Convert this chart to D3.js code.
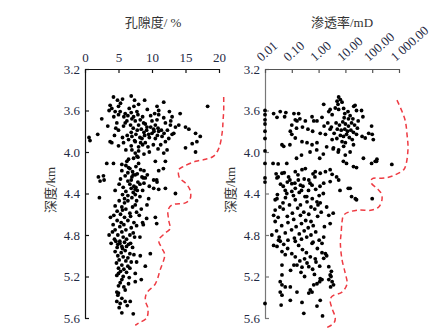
<!DOCTYPE html>
<html>
<head>
<meta charset="utf-8">
<script src="https://cdn.jsdelivr.net/npm/d3@7"></script>
<style>
  html, body { margin: 0; padding: 0; background: #fff; }
  svg { display: block; }
  .tick text { font-family: "Liberation Serif", "Times New Roman", serif; font-size: 13px; fill: #1f2a44; }
  .title { font-family: "Liberation Serif", "Noto Sans CJK SC", serif; font-size: 13px; fill: #333; }
</style>
</head>
<body>
<script>
// Depth ticks shared by both panels (km)
const depthTicks = [3.2, 3.6, 4.0, 4.4, 4.8, 5.2, 5.6];
const porosityTicks = [0, 5, 10, 15, 20];
const permTicks = [0.01, 0.1, 1, 10, 100, 1000];
const permTickLabels = ["0.01", "0.10", "1.00", "10.00", "100.00", "1 000.00"];

// Porosity samples: [porosity %, depth km]
const porositySamples = [
  [4.25,3.47],[4.85,3.50],[5.6,3.49],[6.9,3.46],[7.4,3.50],[8.9,3.50],[8.0,3.54],[11.75,3.52],[10.75,3.56],[18.3,3.56],
  [3.75,3.55],[4.0,3.58],[3.6,3.60],[4.5,3.61],[5.0,3.56],[5.25,3.61],[6.0,3.63],[6.4,3.65],[6.9,3.62],[7.75,3.61],
  [7.9,3.64],[7.25,3.66],[11.0,3.60],[11.0,3.64],[12.6,3.61],[14.2,3.63],[11.75,3.67],[10.75,3.69],[2.5,3.68],[0.6,3.86],
  [0.75,3.89],[1.9,3.83],[4.75,3.72],[4.6,3.77],[5.0,3.79],[5.75,3.75],[6.25,3.70],[7.5,3.70],[8.25,3.69],[8.0,3.74],
  [8.75,3.72],[9.25,3.76],[10.0,3.70],[10.5,3.74],[10.25,3.78],[12.0,3.72],[12.75,3.74],[13.5,3.76],[14.0,3.74],[13.25,3.82],
  [15.0,3.76],[15.5,3.78],[16.5,3.82],[17.2,3.85],[16.0,3.92],[15.0,3.96],[16.7,3.90],[16.5,4.00],[3.75,3.90],[4.0,3.91],
  [5.0,3.94],[5.75,3.91],[6.5,3.88],[7.0,3.85],[7.5,3.90],[8.0,3.95],[8.5,3.87],[9.0,3.91],[9.5,3.83],[10.0,3.82],
  [10.5,3.87],[11.0,3.80],[11.5,3.85],[12.0,3.90],[12.5,3.87],[13.0,3.83],[12.25,3.98],[11.75,4.01],[7.0,3.98],[7.5,4.01],
  [7.25,4.06],[7.75,4.04],[6.5,4.07],[6.25,4.09],[3.25,4.11],[4.25,4.11],[5.5,4.12],[8.0,4.11],[10.5,4.09],[12.0,4.09],
  [6.0,3.72],[6.8,3.74],[7.2,3.77],[7.8,3.79],[8.4,3.78],[8.8,3.81],[9.2,3.79],[9.8,3.76],[10.3,3.80],[10.9,3.77],
  [11.4,3.79],[9.6,3.86],[8.9,3.84],[8.2,3.86],[7.6,3.83],[6.9,3.81],[6.3,3.84],[5.6,3.86],[10.8,3.84],[11.8,3.82],
  [12.3,3.79],[9.0,3.73],[7.0,3.68],[8.6,3.66],[9.8,3.65],[10.4,3.63],[5.8,3.66],[6.6,3.58],[5.3,3.53],[9.3,3.59],
  [7.3,3.56],[8.6,3.93],[9.4,3.95],[10.2,3.93],[8.0,3.99],[8.8,4.02],[9.6,4.00],[7.9,4.05],[6.9,3.94],[11.3,3.93],
  [12.8,3.70],[13.0,3.66],[5.0,3.64],[4.3,3.66],[3.4,3.75],[4.4,3.84],[7.4,3.89],[8.3,3.91],[10.9,3.97],[6.1,3.98],
  [2.0,4.24],[2.25,4.28],[2.75,4.23],[2.85,4.27],[2.15,4.44],[4.5,4.37],[10.25,4.27],[10.75,4.29],[10.25,4.35],[11.0,4.36],
  [12.0,4.35],[13.5,4.40],[11.7,4.16],[11.0,4.18],[9.0,4.25],[9.5,4.45],[9.25,4.51],[10.5,4.63],[10.7,4.69],[9.2,4.64],
  [8.7,4.70],[10.7,4.27],
  [6.1,4.13],[6.7,4.16],[7.6,4.14],[8.3,4.17],[5.5,4.18],[6.4,4.20],[7.1,4.19],[7.8,4.21],[8.8,4.18],[6.0,4.23],
  [7.0,4.24],[7.5,4.22],[8.5,4.24],[5.3,4.26],[6.4,4.28],[6.9,4.27],[7.9,4.29],[8.8,4.30],[6.7,4.31],[7.3,4.33],
  [8.2,4.31],[5.7,4.34],[6.9,4.35],[7.6,4.34],[8.6,4.37],[6.1,4.38],[7.2,4.39],[7.8,4.37],[5.6,4.41],[6.4,4.42],
  [7.5,4.41],[8.2,4.43],[5.9,4.45],[7.0,4.44],[7.7,4.47],[9.3,4.22],[9.6,4.33],[5.1,4.31],[6.5,4.15],[7.2,4.22],
  [8.7,4.25],[7.5,4.36],
  [5.1,4.47],[5.9,4.49],[6.4,4.47],[7.5,4.51],[4.5,4.52],[5.5,4.53],[6.1,4.55],[7.1,4.53],[4.8,4.57],[5.6,4.56],
  [6.7,4.59],[7.7,4.58],[4.3,4.61],[5.3,4.60],[5.9,4.63],[6.8,4.62],[8.1,4.61],[4.8,4.66],[5.4,4.68],[6.4,4.66],
  [7.3,4.68],[4.2,4.70],[5.2,4.72],[5.8,4.70],[6.9,4.73],[7.7,4.71],[4.5,4.75],[5.5,4.77],[6.1,4.75],[7.2,4.78],
  [4.1,4.77],[4.9,4.80],[5.7,4.82],[6.7,4.80],[7.4,4.82],[4.4,4.84],[5.2,4.86],[6.2,4.84],[6.8,4.88],[3.9,4.88],
  [4.9,4.89],[5.5,4.91],[6.5,4.89],[8.4,4.55],[8.6,4.68],[8.2,4.82],[3.8,4.63],[3.6,4.80],
  [9.75,4.98],[8.25,5.0],[9.0,5.10],[7.5,5.17],[8.4,5.23],[7.5,5.25],[6.5,5.27],[5.0,5.17],[4.75,5.19],[5.5,5.23],
  [5.25,5.26],[6.0,5.33],[4.75,5.35],[5.0,5.36],[5.5,5.41],[6.0,5.44],[4.75,5.44],[5.25,5.46],[6.75,5.44],[5.5,5.55],
  [7.2,5.56],
  [4.6,4.86],[5.2,4.88],[5.9,4.87],[4.8,4.92],[5.6,4.93],[6.2,4.91],[7.1,4.92],[4.5,4.96],[5.4,4.97],[6.0,4.95],
  [6.7,4.98],[4.9,5.00],[5.7,5.01],[6.4,5.02],[7.3,4.99],[5.1,5.04],[6.1,5.05],[6.9,5.06],[4.7,5.07],[5.5,5.09],
  [6.4,5.10],[7.7,5.06],[5.0,5.12],[5.8,5.13],[6.7,5.12],[5.3,5.15],[6.2,5.16],[5.7,5.20],[6.6,5.21],[5.0,5.29],
  [5.8,5.30],[4.9,5.38],[6.3,5.48],[5.1,5.50]
];

// Permeability samples: [permeability mD, depth km]
const permSamples = [
  [0.01,3.60],[0.01,3.64],[0.01,3.69],[0.01,3.73],[0.01,3.80],[0.01,3.87],[0.01,3.99],[0.01,4.11],[0.01,4.25],[0.01,4.29],[0.01,5.46],
  [5.6,3.47],[6.5,3.495],[4.9,3.51],[7.5,3.52],[5.3,3.54],[1.55,3.54],[20.5,3.56],[4.2,3.576],[8.6,3.58],[2.7,3.59],
  [5.6,3.59],[2.4,3.61],[12.5,3.61],[23,3.55],[26,3.60],[3.2,3.64],[0.021,3.63],[0.028,3.666],[0.037,3.61],[0.054,3.66],
  [0.12,3.63],[0.135,3.69],[0.156,3.70],[0.18,3.63],[0.32,3.70],[0.57,3.66],[0.66,3.70],[0.87,3.70],[1.34,3.666],[0.06,3.62],
  [0.2,3.68],[9.5,3.63],[15,3.65],[40,3.60],[45,3.66],
  [0.088,3.80],[0.1,3.83],[0.135,3.865],[0.24,3.90],[0.37,3.91],[0.043,3.93],[0.05,3.945],[0.57,3.93],[0.87,3.91],[0.1,3.74],
  [0.25,3.76],[0.4,3.78],[0.6,3.80],[0.15,3.77],[0.085,3.93],
  [1.15,3.82],[1.8,3.83],[2.7,3.78],[3.2,3.88],[3.6,3.96],[5.6,3.98],[8.6,3.945],[9.9,4.03],[15,4.0],[20,3.93],
  [42,3.85],[55,3.865],[74,3.82],[100,3.83],[95,3.75],[110,3.88],
  [4.5,3.72],[6,3.74],[8,3.71],[10,3.73],[13,3.75],[17,3.72],[22,3.74],[28,3.77],[5,3.78],[7,3.79],
  [9.5,3.78],[12,3.80],[16,3.79],[20,3.81],[26,3.83],[6.5,3.84],[8.5,3.85],[11,3.83],[14,3.86],[18,3.88],
  [3.8,3.82],[4.8,3.87],[7.5,3.90],[10,3.91],[13,3.68],[9,3.67],[19,3.68],[30,3.70],[2.2,3.72],[1.6,3.75],[3,3.76],
  [150,4.07],[130,4.09],[540,4.12],[95,4.11],[145,4.09],[47,4.06],
  [0.02,4.11],[0.031,4.115],[0.065,4.11],[0.15,4.06],[0.23,4.03],[0.48,4.0],[0.85,3.98],[1.1,4.06],[1.5,4.02],[2.0,3.95],
  [3.5,3.97],[5.4,4.0],[8.4,4.09],[11,4.11],[20,4.14],[26,4.15],
  [0.043,4.205],[0.028,4.25],[0.076,4.24],[0.135,4.19],[0.24,4.17],[0.32,4.16],[0.75,4.19],[1.15,4.205],[1.8,4.19],[3.2,4.215],
  [2.7,4.17],[5.6,4.27],[15,4.35],[23.5,4.45],[100,4.45],[1.55,4.30],[0.57,4.32],[0.43,4.27],[0.21,4.32],[0.135,4.35],
  [0.1,4.38],[0.057,4.37],[0.028,4.45],
  [0.031,4.24],[0.048,4.33],[0.024,4.46],[0.036,4.53],[0.065,4.40],[0.1,4.305],[0.175,4.27],[0.23,4.37],[0.36,4.43],[0.48,4.30],
  [0.73,4.24],[1.13,4.33],[1.5,4.40],[2.7,4.285],[4.7,4.24],[6.3,4.37],[12.8,4.35],[17,4.43],[26,4.46],[2.0,4.53],[3.5,4.59],
  [0.026,4.21],[0.052,4.20],[0.085,4.27],[0.17,4.22],[0.29,4.26],[0.62,4.21],[0.038,4.31],[0.068,4.29],[0.13,4.30],[0.26,4.33],
  [0.42,4.37],[0.78,4.36],[0.029,4.41],[0.058,4.44],[0.115,4.42],[0.19,4.39],[0.31,4.43],[0.58,4.45],[1.05,4.42],[0.047,4.49],
  [0.082,4.51],[0.135,4.46],[0.21,4.51],[0.37,4.48],[0.52,4.53],[0.95,4.51],[0.024,4.56],[0.048,4.55],[0.105,4.59],[0.165,4.54],
  [0.28,4.58],[0.43,4.60],[0.72,4.55],[1.25,4.58],[0.031,4.63],[0.068,4.62],[0.118,4.65],[0.21,4.61],[0.33,4.66],[0.52,4.67],
  [0.92,4.62],[0.042,4.71],[0.072,4.68],[0.145,4.72],[0.23,4.69],[0.41,4.73],[0.63,4.71],[1.65,4.72],[0.027,4.76],[0.057,4.78],
  [0.098,4.75],[0.19,4.79],[0.29,4.76],[0.52,4.80],[0.78,4.77],[0.034,4.82],[0.072,4.85],[0.125,4.83],[0.23,4.84],[0.36,4.82],
  [0.62,4.87],[1.05,4.85],[0.018,4.80],[0.024,4.67],[0.021,4.61],[0.032,4.85],[2.4,4.61],[2.7,4.69],[1.55,4.82],
  [1.34,4.88],[0.87,4.48],[1.15,4.49],
  [0.021,4.90],[0.028,4.91],[0.037,4.86],[0.05,4.89],[0.135,4.86],[0.18,4.90],[0.57,4.88],[0.043,4.96],[0.057,4.99],[0.1,4.98],
  [0.135,5.01],[0.49,5.01],[0.75,5.03],[1.34,4.97],[1.8,4.98],[1.55,5.025],[0.043,5.09],[0.12,5.09],[0.156,5.09],[0.24,5.11],
  [0.37,5.07],[0.43,5.105],[2.4,5.105],[2.7,5.185],[1.15,5.22],[1.34,5.23],[0.87,5.27],[0.66,5.28],[0.49,5.33],[0.57,5.35],
  [0.43,5.36],[2.4,5.23],[3.6,5.28],[0.043,5.185],[0.037,5.25],[0.043,5.28],[0.037,5.35],[0.043,5.38],[0.057,5.30],[0.088,5.30],
  [0.156,5.35],[0.088,5.43],[0.24,5.45],[0.04,5.475],[1.15,5.43],[0.87,5.485],[0.28,5.555],[1.4,5.58],
  [0.07,4.93],[0.25,4.94],[0.35,4.97],[0.9,4.93],[0.3,5.03],[0.8,5.06],[0.2,5.05],[1.1,5.10],[0.6,5.13],[0.09,5.14],
  [0.22,5.16],[2.0,5.00],[3.0,5.15],[0.3,5.20],[0.7,5.18],[2.8,5.30],[3.2,5.25],[2.9,5.20],[1.1,5.25]
];

// Upper envelope of porosity with depth: [porosity %, depth km]
const porosityEnvelope = [
  [20.7,3.47],[20.7,3.60],[20.6,3.70],[20.5,3.80],[20.0,3.96],[19.2,4.04],[18.0,4.07],[16.5,4.09],[14.7,4.14],
  [14.0,4.17],[14.1,4.25],[15.0,4.30],[15.7,4.37],[15.7,4.45],[15.0,4.49],[13.0,4.51],[12.4,4.56],[12.5,4.66],
  [12.7,4.74],[12.0,4.78],[11.0,4.85],[11.5,4.93],[11.9,4.99],[11.2,5.14],[10.5,5.27],[9.2,5.36],[9.0,5.43],
  [9.4,5.51],[9.2,5.60],[8.0,5.65],[7.5,5.67]
];

// Upper envelope of permeability with depth: [permeability mD, depth km]
const permEnvelope = [
  [840,3.50],[1300,3.61],[1720,3.70],[1990,3.83],[2170,3.96],[1830,4.12],[1500,4.17],[730,4.22],[310,4.25],
  [98,4.26],[93,4.30],[150,4.35],[218,4.40],[232,4.46],[175,4.53],[98,4.56],[31,4.56],[13,4.58],[8.6,4.61],
  [7.5,4.67],[7.0,4.77],[6.5,4.88],[7.5,5.04],[9.9,5.17],[11.5,5.27],[7.5,5.35],[3.2,5.39],[2.7,5.43],
  [3.2,5.51],[4.2,5.60],[3.7,5.65],[2.1,5.69]
];

const W = 443, H = 333;
const svg = d3.select("body").append("svg").attr("width", W).attr("height", H);

const yDepth = d3.scaleLinear().domain([3.2, 5.6]).range([69, 318]);
const xPor = d3.scaleLinear().domain([0, 20]).range([85, 219]);
const xPerm = d3.scaleLog().domain([0.01, 1000]).range([265, 399]);

const red = "#ee3b43";
const dotR = 1.9;

function depthAxis(g, x0, color) {
  g.attr("transform", `translate(${x0},0)`)
    .call(d3.axisLeft(yDepth).tickValues(depthTicks).tickFormat(d3.format(".1f"))
      .tickSize(-4).tickSizeOuter(0).tickPadding(5));
  g.selectAll(".domain, .tick line").attr("stroke", color).attr("stroke-width", 1.2);
}

// ----- Porosity panel -----
const gL = svg.append("g");
gL.append("g").call(g => depthAxis(g, 85, "#111"));
const topL = gL.append("g").attr("transform", "translate(0,69)")
  .call(d3.axisTop(xPor).tickValues(porosityTicks).tickFormat(d3.format("d"))
    .tickSize(-4).tickSizeOuter(0).tickPadding(7));
topL.selectAll(".domain, .tick line").attr("stroke", "#111").attr("stroke-width", 1.2);

gL.append("path")
  .datum(porosityEnvelope)
  .attr("fill", "none").attr("stroke", red).attr("stroke-width", 1.5)
  .attr("stroke-dasharray", "5,3.5")
  .attr("d", d3.line().x(d => xPor(d[0])).y(d => yDepth(d[1])).curve(d3.curveCatmullRom));

gL.append("g").selectAll("circle").data(porositySamples).join("circle")
  .attr("cx", d => xPor(d[0])).attr("cy", d => yDepth(d[1])).attr("r", dotR).attr("fill", "#000");

gL.append("text").attr("class", "title").attr("x", 153).attr("y", 27)
  .attr("text-anchor", "middle").text("孔隙度/ %");
gL.append("text").attr("class", "title")
  .attr("transform", "translate(55,190) rotate(-90)").attr("text-anchor", "middle").text("深度/km");

// ----- Permeability panel -----
const gR = svg.append("g");
gR.append("g").call(g => depthAxis(g, 265, "#777"));
const topR = gR.append("g").attr("transform", "translate(0,69)")
  .call(d3.axisTop(xPerm).tickValues(permTicks).tickFormat((d, i) => permTickLabels[i])
    .tickSize(-4).tickSizeOuter(0).tickPadding(7));
topR.selectAll(".domain, .tick line").attr("stroke", "#555").attr("stroke-width", 1.2);
topR.selectAll(".tick text")
  .attr("y", null).attr("dy", null)
  .attr("text-anchor", "start")
  .attr("transform", "translate(-4,-7) rotate(-42)");

gR.append("path")
  .datum(permEnvelope)
  .attr("fill", "none").attr("stroke", red).attr("stroke-width", 1.5)
  .attr("stroke-dasharray", "5,3.5")
  .attr("d", d3.line().x(d => xPerm(d[0])).y(d => yDepth(d[1])).curve(d3.curveCatmullRom));

gR.append("g").selectAll("circle").data(permSamples).join("circle")
  .attr("cx", d => xPerm(d[0])).attr("cy", d => yDepth(d[1])).attr("r", dotR).attr("fill", "#000");

gR.append("text").attr("class", "title").attr("x", 342).attr("y", 27)
  .attr("text-anchor", "middle").text("渗透率/mD");
gR.append("text").attr("class", "title")
  .attr("transform", "translate(235,190) rotate(-90)").attr("text-anchor", "middle").text("深度/km");
</script>
</body>
</html>
